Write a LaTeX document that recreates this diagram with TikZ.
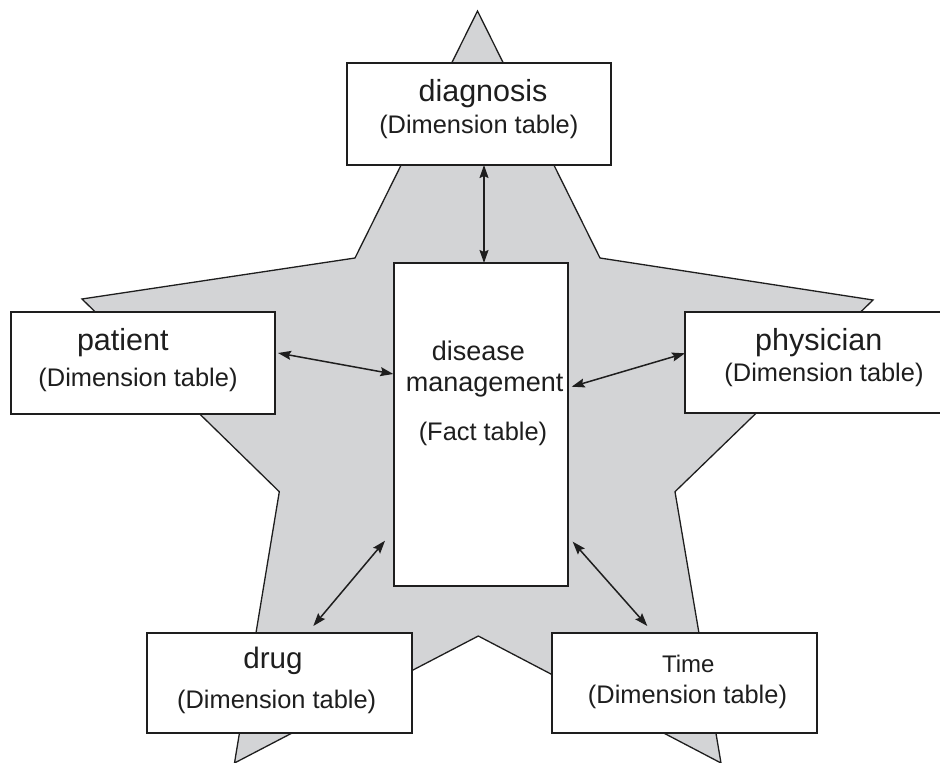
\documentclass[tikz,border=0pt]{standalone}
\usepackage{fontspec}
\setmainfont{Liberation Sans}
\usetikzlibrary{arrows.meta}
\definecolor{starfill}{RGB}{211,212,214}
\definecolor{ink}{RGB}{30,30,30}
\begin{document}
\begin{tikzpicture}[x=1pt,y=-1pt,
  tbl/.style={draw=ink, line width=1.7pt, fill=white, inner sep=0pt, outer sep=0pt},
  bigtxt/.style={font=\fontsize{30.5}{36}\selectfont, text=ink, inner sep=0pt, anchor=base},
  midtxt/.style={font=\fontsize{27}{32}\selectfont, text=ink, inner sep=0pt, anchor=base},
  subtxt/.style={font=\fontsize{25.4}{30}\selectfont, text=ink, inner sep=0pt, anchor=base},
  link/.style={line width=1.5pt, draw=ink,
    {Stealth[length=13pt,width=9pt,inset=2pt]}-{Stealth[length=13pt,width=9pt,inset=2pt]}}
]
\useasboundingbox (0,0) rectangle (940,763);
\clip (0,0) rectangle (940,763);

% star-shaped backdrop
\draw[fill=starfill, draw=ink, line width=1.3pt, line join=miter]
  (477.5,11) -- (600,258) -- (873,300) -- (675,491.7) -- (721,763)
  -- (478.3,636) -- (234.5,763) -- (279.3,491.7) -- (82,299) -- (355,258) -- cycle;

% tables
\node[tbl, minimum width=264, minimum height=102] (diag) at (479,114) {};
\node[tbl, minimum width=264, minimum height=102] (patient) at (143,363) {};
\node[tbl, minimum width=264, minimum height=101] (phys) at (817,362.5) {};
\node[tbl, minimum width=174, minimum height=323] (fact) at (481,424.5) {};
\node[tbl, minimum width=265, minimum height=100] (drug) at (279.5,683) {};
\node[tbl, minimum width=265, minimum height=100] (time) at (684.5,683) {};

% labels
\node[bigtxt] (diagA) at (483,101) {diagnosis};
\node[subtxt] (diagB) at (478.8,133) {(Dimension table)};
\node[bigtxt] (patA) at (122.8,350) {patient};
\node[subtxt] (patB) at (138,386.7) {(Dimension table)};
\node[bigtxt] (physA) at (818.7,350) {physician};
\node[subtxt] (physB) at (824,381.7) {(Dimension table)};
\node[midtxt] (factA) at (478.4,360) {disease};
\node[midtxt] (factB) at (484.7,391.7) {management};
\node[subtxt] (factC) at (483,440) {(Fact table)};
\node[bigtxt, font=\fontsize{29.6}{35}\selectfont] (drugA) at (273,668.3) {drug};
\node[subtxt] (drugB) at (276.7,708.3) {(Dimension table)};
\node[bigtxt, font=\fontsize{24}{29}\selectfont] (timeA) at (688.3,672.7) {Time};
\node[subtxt] (timeB) at (687.5,703.3) {(Dimension table)};

% links between dimension tables and the fact table
\draw[link] ([xshift=5pt]diag.south) -- ([xshift=3pt]fact.north);
\draw[link] ([xshift=3pt,yshift=10pt]patient.east) -- ([xshift=-0.7pt,yshift=50.5pt]fact.west);
\draw[link] ([yshift=9.2pt]phys.west) -- ([xshift=3.7pt,yshift=37.8pt]fact.east);
\draw[link] ([xshift=33.8pt,yshift=7pt]drug.north) -- ([xshift=-9pt,yshift=45.3pt]fact.south west);
\draw[link] ([xshift=-37.2pt,yshift=7pt]time.north) -- ([xshift=4.7pt,yshift=44.3pt]fact.south east);
\end{tikzpicture}
\end{document}
